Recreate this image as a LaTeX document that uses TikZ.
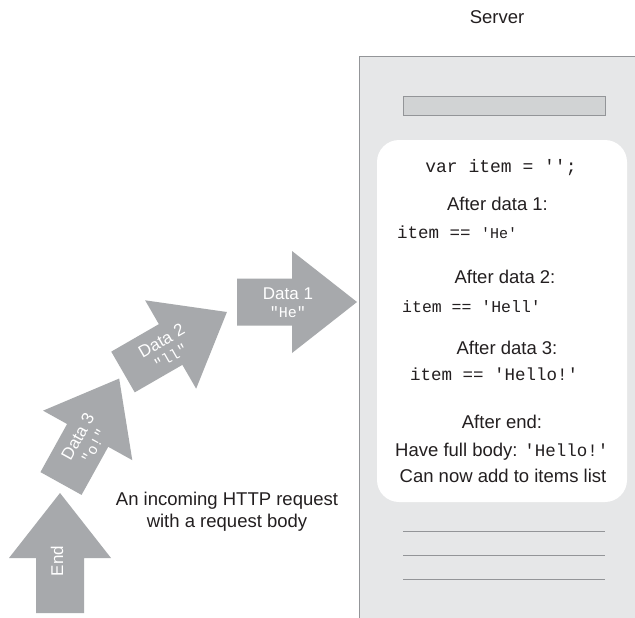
\documentclass[tikz,border=0pt]{standalone}
\usepackage{fontspec}
\setmainfont{Liberation Sans}
\setmonofont{Liberation Mono}
\definecolor{arrowgray}{HTML}{A7A9AC}
\definecolor{srvbg}{HTML}{E6E7E8}
\definecolor{srvline}{HTML}{939598}
\definecolor{barfill}{HTML}{D1D3D4}
\definecolor{ink}{HTML}{231F20}
\newcommand{\arrowcodefont}{\ttfamily\fontsize{15}{18}\selectfont}
\begin{document}
\begin{tikzpicture}[x=1pt,y=-1pt,
  lbl/.style={font=\fontsize{18.5}{22}\selectfont, text=ink, inner sep=0pt},
  code/.style={font=\ttfamily\fontsize{17.5}{20}\selectfont, text=ink, inner sep=0pt},
  arrowtxt/.style={font=\fontsize{17}{20}\selectfont, text=white, inner sep=0pt, align=center},
  arrowbody/.style={fill=arrowgray, draw=none},
  srvrule/.style={draw=srvline, line width=0.8pt}]
\useasboundingbox (0,0) rectangle (635,618);
\fill[white] (0,0) rectangle (635,618);

% server
\draw[srvrule, fill=srvbg] (359,56) rectangle (640,625);
\node[lbl] (server) at (497,17) {Server};
\draw[srvrule, fill=barfill] (403,96) rectangle (605,115);
\fill[white, rounded corners=22pt] (377,140) rectangle (627,502);
\draw[srvrule] (403,531) -- (605,531);
\draw[srvrule] (403,555) -- (605,555);
\draw[srvrule] (403,579) -- (605,579);

\node[code, font=\ttfamily\fontsize{18}{20}\selectfont] (init) at (501,168) {var item = '';};
\node[lbl] (a1) at (497.5,204) {After data 1:};
\node[code, anchor=west] (v1) at (397,232) {item == {\fontsize{15}{18}\selectfont 'He'}};
\node[lbl] (a2) at (505,277) {After data 2:};
\node[code, anchor=west, font=\ttfamily\fontsize{16.5}{20}\selectfont] (v2) at (402,307) {item == 'Hell'};
\node[lbl] (a3) at (507,348) {After data 3:};
\node[code, anchor=west] (v3) at (410,374) {item == 'Hello!'};
\node[lbl] (a4) at (502,422) {After end:};
\node[lbl, anchor=west] (full) at (395,452) {Have full body: {\ttfamily\fontsize{17.5}{20}\selectfont 'Hello!'}};
\node[lbl] (can) at (503,476) {Can now add to items list};

% arrows
\begin{scope}[shift={(237,302)}]
  \fill[arrowbody] (0,-23.5) -- (55,-23.5) -- (55,-51) -- (120,0) -- (55,51) -- (55,23.5) -- (0,23.5) -- cycle;
  \node[arrowtxt] (d1) at (51,1) {Data 1\\[-2pt]{\arrowcodefont "He"}};
\end{scope}
\begin{scope}[shift={(123,372)}, rotate=30]
  \fill[arrowbody] (0,-23.5) -- (55,-23.5) -- (55,-51) -- (120,0) -- (55,51) -- (55,23.5) -- (0,23.5) -- cycle;
  \node[arrowtxt, rotate=30] (d2) at (49,1) {Data 2\\[-2pt]{\arrowcodefont "ll"}};
\end{scope}
\begin{scope}[shift={(61,483.5)}, rotate=61]
  \fill[arrowbody] (0,-23.5) -- (55,-23.5) -- (55,-51) -- (120,0) -- (55,51) -- (55,23.5) -- (0,23.5) -- cycle;
  \node[arrowtxt, rotate=61] (d3) at (49,1) {Data 3\\[-2pt]{\arrowcodefont "o!"}};
\end{scope}
\begin{scope}[shift={(60,613)}, rotate=90]
  \fill[arrowbody] (0,-24) -- (55,-24) -- (55,-51) -- (120,0) -- (55,51) -- (55,24) -- (0,24) -- cycle;
  \node[arrowtxt, rotate=90] (endt) at (52,-3) {End};
\end{scope}

\node[lbl, align=center] (cap) at (227,512) {An incoming HTTP request\\with a request body};
\end{tikzpicture}
\end{document}
